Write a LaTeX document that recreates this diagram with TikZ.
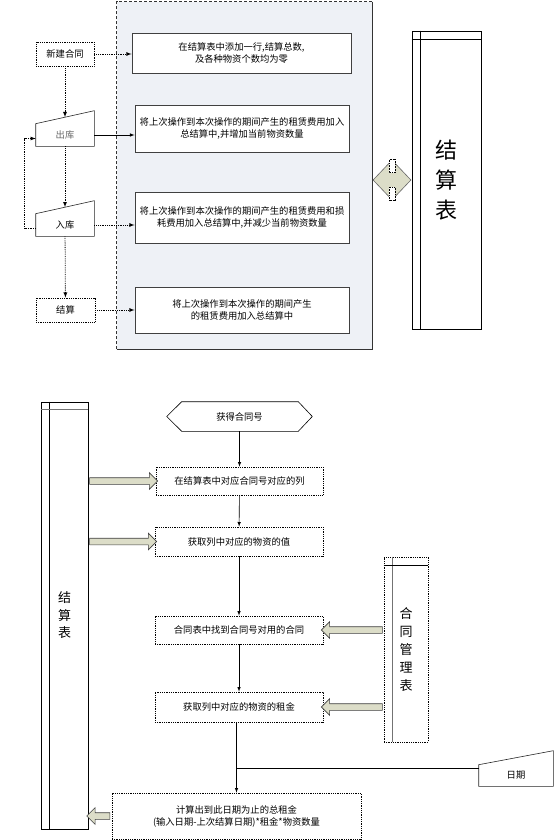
\documentclass[tikz,border=0pt]{standalone}
\usepackage{fontspec}
\newfontfamily\cjk{Noto Sans CJK SC}
\usetikzlibrary{shapes.arrows, shapes.geometric}
\definecolor{areafill}{HTML}{EEF1F6}
\definecolor{fatfill}{HTML}{DCDDC8}

\begin{document}
\begin{tikzpicture}[>=latex, x=1pt, y=-1pt, font=\cjk\fontsize{9.3}{12}\selectfont, line width=.6pt,
    box/.style={draw=black!75, line width=.9pt, align=center, inner sep=2pt},
    dbox/.style={draw, densely dotted, line width=.8pt, align=center, inner sep=2pt},
    shp/.style={inner sep=0pt, align=center},
    tab/.style={draw, inner sep=0pt, align=center},
    fat/.style={single arrow, draw=black!75, fill=fatfill, inner sep=3pt,
        single arrow head extend=5pt, minimum height=#1},
    dline/.style={densely dotted, line width=.8pt, ->},
]

\useasboundingbox (0,0) rectangle (554,840);

%%% upper part

\node[fill=areafill, minimum width=255pt, minimum height=347pt, inner sep=0pt] (area) at (244.5,175.5) {};
\draw[densely dashed, black!80] (area.south west) -- (area.north west) -- (area.north east);
\draw[black!80] (area.north east) -- (area.south east) -- (area.south west);

\node[dbox, minimum width=58pt, minimum height=24pt] (new) at (65,54) {新建合同};
\node[shp, minimum width=58pt, minimum height=22pt, text=black!60] (out) at (65,135) {出库};
\draw[black!85] (out.south west) -- (out.south east) -- ([yshift=13pt]out.north east) -- (out.north west) -- cycle;
\node[shp, minimum width=58pt, minimum height=22pt] (in) at (65,225) {入库};
\draw[black!85] (in.south west) -- (in.south east) -- ([yshift=13pt]in.north east) -- (in.north west) -- cycle;
\node[dbox, minimum width=59pt, minimum height=24pt] (js) at (65.5,310) {结算};

\node[box, fill=white, minimum width=219pt, minimum height=40pt] (b1) at (241.5,53)
    {在结算表中添加一行,结算总数,\\及各种物资个数均为零};
\node[box, fill=white, minimum width=214pt, minimum height=47pt] (b2) at (242,128.5)
    {将上次操作到本次操作的期间产生的租赁费用加入\\总结算中,并增加当前物资数量};
\node[box, fill=white, minimum width=214pt, minimum height=51pt] (b3) at (242,217.5)
    {将上次操作到本次操作的期间产生的租赁费用和损\\耗费用加入总结算中,并减少当前物资数量};
\node[box, fill=white, minimum width=214pt, minimum height=46pt] (b4) at (242,310)
    {将上次操作到本次操作的期间产生\\的租赁费用加入总结算中};

\draw[dline] (new) -- (new -| b1.west);
\draw[dline] (new) -- ([yshift=6.5pt]out.north);
\draw[->] (out.east) -- (out.east -| b2.west);
\draw[dline] (out) -- ([yshift=6.5pt]in.north);
\draw[dline] ([yshift=-3.5pt]in.west) -- ++(-11,0) |- ([yshift=-3.5pt]out.west);
\draw[dline] (in.east) -- (in.east -| b3.west);
\draw[dline] (in) -- (js);
\draw[dline] (js) -- (js -| b4.west);

% link to the table
\node[diamond, draw=black!60, fill=fatfill, minimum width=38pt, minimum height=40pt, inner sep=0pt] (link) at (392,180) {};
\draw[densely dotted, fill=white] ([xshift=-3pt]link.north) rectangle ([xshift=3pt,yshift=-13pt]link.north);
\draw[densely dotted, fill=white] ([xshift=-3pt]link.south) rectangle ([xshift=3pt,yshift=13pt]link.south);

\node[tab, minimum width=69pt, minimum height=298pt, font=\cjk\fontsize{22}{30}\selectfont] (tab1) at (446.5,180) {结\\算\\表};
\draw ([xshift=9pt]tab1.north west) -- ([xshift=9pt]tab1.south west);
\draw ([yshift=-9pt]tab1.north west) -- ([yshift=-9pt]tab1.north east);

%%% lower part

\node[tab, minimum width=47pt, minimum height=427pt, font=\cjk\fontsize{13}{17.5}\selectfont] (sjb) at (64.5,615.5) {结\\算\\表};
\draw ([xshift=9pt]sjb.north west) -- ([xshift=9pt]sjb.south west);
\draw[black!55, line width=1pt] ([yshift=-8pt]sjb.north west) -- ([yshift=-8pt]sjb.north east);

\node[shp, minimum width=145pt, minimum height=29pt] (start) at (239.5,416.5) {获得合同号};
\draw (start.west) -- ([xshift=15pt]start.north west) -- ([xshift=-14pt]start.north east) -- (start.east)
    -- ([xshift=-14pt]start.south east) -- ([xshift=15pt]start.south west) -- cycle;

\node[dbox, minimum width=167pt, minimum height=28pt] (c1) at (239.5,481) {在结算表中对应合同号对应的列};
\node[dbox, minimum width=168pt, minimum height=29pt] (c2) at (239,541.5) {获取列中对应的物资的值};
\node[dbox, minimum width=168pt, minimum height=28pt] (c3) at (239,630) {合同表中找到合同号对用的合同};
\node[dbox, minimum width=168pt, minimum height=30pt] (c4) at (239,707) {获取列中对应的物资的租金};
\node[dbox, minimum width=249pt, minimum height=46pt] (calc) at (236.5,816)
    {计算出到此日期为止的总租金\\(输入日期-上次结算日期)*租金*物资数量};

\node[tab, densely dotted, line width=.8pt, minimum width=44pt, minimum height=185pt, font=\cjk\fontsize{13}{18}\selectfont] (hgl) at (406,649.5) {合\\同\\管\\理\\表};
\draw[black!55, line width=1pt] ([xshift=9pt]hgl.north west) -- ([xshift=9pt]hgl.south west);
\draw ([yshift=-9pt]hgl.north west) -- ([yshift=-9pt]hgl.north east);

\node[shp, minimum width=74pt, minimum height=21pt] (date) at (516,775.5) {日期};
\draw[black!85] (date.south west) -- (date.south east) -- ([yshift=14pt]date.north east) -- (date.north west) -- cycle;

\draw[->] (start) -- (c1);
\draw[->] (c1) -- (c2);
\draw[->] (c2) -- (c3);
\draw[->] (c3) -- (c4);
\draw[->] (calc.north |- c4.south) -- (calc.north);
\draw ([yshift=7.5pt]date.west) -- ([yshift=7.5pt]date.west -| calc.north);

% data flow arrows
\path (sjb.east |- c1) -- (c1.west) node[fat=68pt, midway] (f1) {};
\path (sjb.east |- c2) -- (c2.west) node[fat=67pt, midway] (f2) {};
\path (hgl.west |- c3) -- (c3.east) node[fat=61pt, midway, shape border rotate=180] (f3) {};
\path (hgl.west |- c4) -- (c4.east) node[fat=61pt, midway, shape border rotate=180] (f4) {};
\path (calc.west) -- (calc.west -| sjb.east) node[fat=23pt, midway, shape border rotate=180] (f5) {};

\end{tikzpicture}
\end{document}
